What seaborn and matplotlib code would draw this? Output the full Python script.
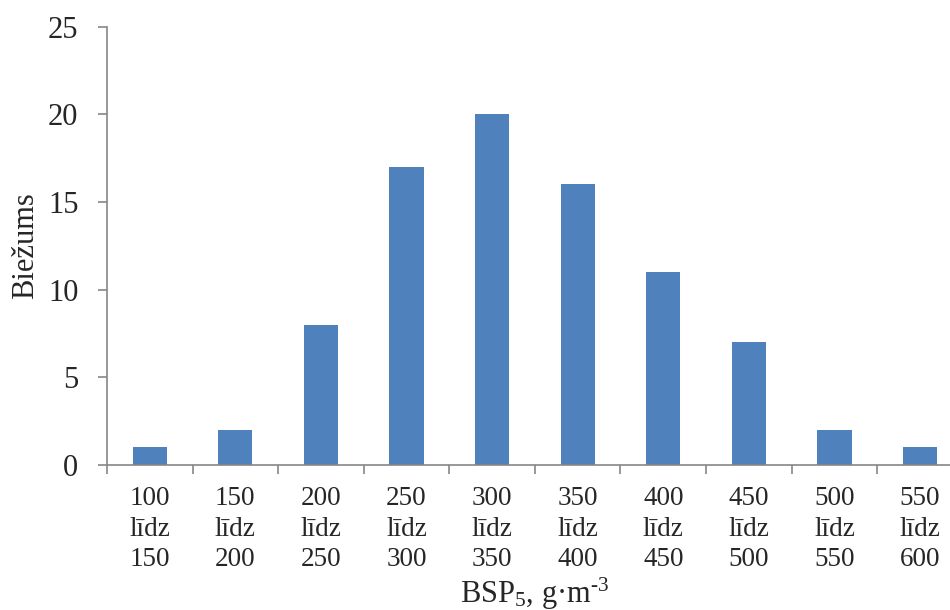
import matplotlib
matplotlib.use("Agg")
import matplotlib.pyplot as plt
import seaborn as sns
import pandas as pd
import numpy as np

# Frequency of BSP5 concentration ranges
range_starts = [100, 150, 200, 250, 300, 350, 400, 450, 500, 550]
range_ends = [150, 200, 250, 300, 350, 400, 450, 500, 550, 600]
frequency = [1, 2, 8, 17, 20, 16, 11, 7, 2, 1]
y_ticks = [0, 5, 10, 15, 20, 25]

labels = [f"{a}\nlīdz\n{b}" for a, b in zip(range_starts, range_ends)]
df = pd.DataFrame({"range": labels, "count": frequency})

sns.set_theme(style="white")
plt.rcParams["font.family"] = ["Liberation Serif", "DejaVu Serif"]
plt.rcParams["mathtext.fontset"] = "custom"
plt.rcParams["mathtext.rm"] = "Liberation Serif"
plt.rcParams["mathtext.it"] = "Liberation Serif:italic"

fig = plt.figure(figsize=(9.5, 6.1), dpi=100)
ax = fig.add_axes([0.1126, 0.2377, 0.9009, 0.7186])

sns.barplot(data=df, x="range", y="count", color="#4F81BD", width=0.4,
            saturation=1, linewidth=0, ax=ax)

n = len(labels)
ax.set_xlim(-0.5, n - 0.5)
ax.set_ylim(0, 25)
ax.set_yticks(y_ticks)
ax.set_yticklabels([str(v) for v in y_ticks], fontsize=22)

# category labels at centres, tick marks at category boundaries
ax.set_xticks(np.arange(n))
ax.set_xticklabels(labels, fontsize=19.5, linespacing=1.3)
ax.set_xticks(np.arange(n + 1) - 0.5, minor=True)
ax.tick_params(axis="x", which="major", length=0, pad=15)
ax.tick_params(axis="x", which="minor", length=6.5, width=1.2, color="#868686",
               direction="out", bottom=True)
ax.tick_params(axis="y", length=6.5, width=1.2, color="#868686", direction="out",
               left=True, pad=14)

for side in ["top", "right"]:
    ax.spines[side].set_visible(False)
for side in ["left", "bottom"]:
    ax.spines[side].set_color("#868686")
    ax.spines[side].set_linewidth(1.2)

ax.set_ylabel("Biežums", fontsize=22, labelpad=6)
ax.set_xlabel(r"BSP$_5$, g·m$^{\text{-}3}$", fontsize=22, labelpad=2.5)

fig.savefig("out.png", dpi=100)
